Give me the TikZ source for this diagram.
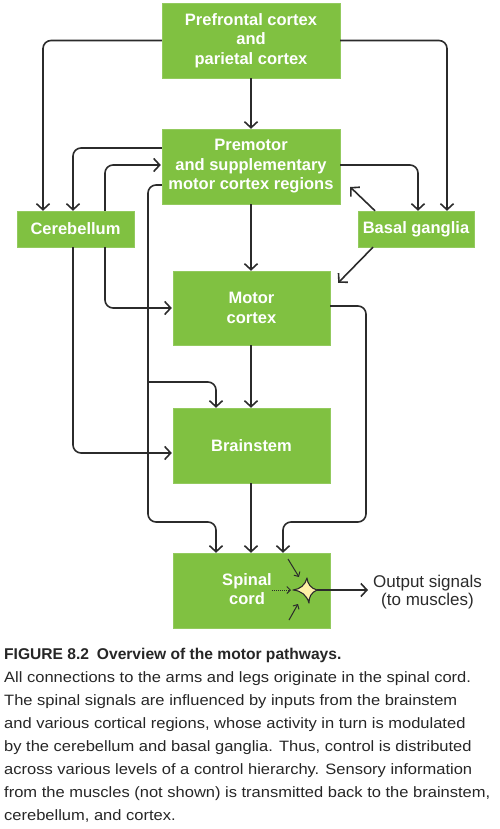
\documentclass[tikz,border=0pt]{standalone}
\usepackage{fontspec}
\setmainfont{Liberation Sans}
\newfontfamily\legfont[FakeStretch=1.1]{Liberation Sans}
\usetikzlibrary{arrows.meta}
\definecolor{vert}{HTML}{80C141}
\definecolor{trait}{HTML}{2B2B2B}
\definecolor{jaune}{HTML}{FDF0A6}

\begin{document}
\begin{tikzpicture}[x=1pt,y=-1pt,
  boite/.style={fill=vert, draw=vert!85!white, text=white, align=center,
                font=\fontsize{16.5}{19.5}\selectfont\bfseries, inner sep=0pt},
  fl/.style={draw=trait, line width=1.6pt, rounded corners=8pt,
             -{Straight Barb[length=6pt,width=13pt,line width=1.6pt]}},
  petit/.style={draw=trait, line width=1pt,
             -{Straight Barb[length=3.5pt,width=7pt,line width=1pt]}}]

\useasboundingbox (0,0) rectangle (500,829);

% les boites
\node [boite, minimum width=178pt, minimum height=75pt] (pfc) at (251,40.5)
  {Prefrontal cortex\\and\\parietal cortex};
\node [boite, minimum width=178pt, minimum height=75pt] (pmc) at (251,166.5)
  {Premotor\\and supplementary\\motor cortex regions};
\node [boite, minimum width=117pt, minimum height=36pt] (cer) at (75.5,229) {Cerebellum};
\node [boite, minimum width=116pt, minimum height=36pt] (bg) at (416,229) {Basal ganglia};
\node [boite, minimum width=157pt, minimum height=74pt] (mc) at (251.5,308) {Motor\\cortex};
\node [boite, minimum width=157pt, minimum height=75pt] (bs) at (251.5,445.5) {Brainstem};
\node [boite, minimum width=157pt, minimum height=75pt] (sc) at (251.5,590.5) {};
\node [boite, fill=none, draw=none] (sctxt) at (247,589) {Spinal\\cord};

% les fleches
\draw [fl] (pfc.south) -- (pmc.north);
\draw [fl] (pfc.west) -| ([xshift=-32.5pt]cer.north);
\draw [fl] (pfc.east) -| ([xshift=31pt]bg.north);
\draw [fl] ([yshift=18.5pt]pmc.west) -| ([xshift=-2.5pt]cer.north);
\draw [fl] ([xshift=29.5pt]cer.north) |- ([xshift=-1pt,yshift=1.5pt]pmc.west);
\draw [fl] ([yshift=1.5pt]pmc.east) -| ([xshift=2pt]bg.north);
\draw [fl] ([xshift=-41pt]bg.north) -- ([xshift=10pt,yshift=-20.5pt]pmc.east);
\draw [fl] ([xshift=-43pt]bg.south) -- ([xshift=8pt,yshift=-12pt]mc.north east);
\draw [fl] (pmc.south) -- (pmc.south |- mc.north);
\draw [fl] ([xshift=29.5pt]cer.south) |- ([xshift=-1pt]mc.west);
\draw [fl] ([xshift=-2.5pt]cer.south) |- ([xshift=-1pt,yshift=-7.5pt]bs.west);
\draw [fl] ([yshift=-18.5pt]pmc.west) -| (148,522) -| ([xshift=-35.5pt]sc.north);
\coordinate (branche) at (148,382);
\draw [fl] (branche) -| ([xshift=-35.5pt]bs.north);
\draw [fl] ([xshift=-0.5pt]mc.south) -- ([xshift=-0.5pt]bs.north);
\draw [fl] ([xshift=-0.5pt]bs.south) -- ([xshift=-0.5pt]sc.north);
\draw [fl] ([yshift=2pt]mc.east) -| (366,522) -| ([xshift=31.5pt]sc.north);

% le neurone dans la moelle
\coordinate (nrn) at (305,590);
\draw [fl] (317,590) -- (368,590);
\draw [trait, line width=1.1pt, fill=jaune, line join=round]
  (293,590) to[bend right=35] (307,578) to[bend right=35] (317,590)
  to[bend right=35] (309,603) to[bend right=35] cycle;
\draw [petit] (288,559) -- (299,577);
\draw [petit, densely dotted] (272,590) -- (291,590);
\draw [petit] (289,620) -- (298,604);

\node [align=center, font=\fontsize{17}{18.5}\selectfont, text=trait] (sortie) at (427.5,592)
  {Output signals\\(to muscles)};

% la legende
\node [anchor=north west, align=left, inner sep=0pt, text=black!85,
       font=\fontsize{15}{23}\selectfont] (leg) at (4,648)
  {\textbf{\fontsize{15.6}{23}\selectfont FIGURE 8.2\enspace Overview of the motor pathways.}\\
   \legfont All connections to the arms and legs originate in the spinal cord.\\
   \legfont The spinal signals are influenced by inputs from the brainstem\\
   \legfont and various cortical regions, whose activity in turn is modulated\\
   \legfont by the cerebellum and basal ganglia. Thus, control is distributed\\
   \legfont across various levels of a control hierarchy. Sensory information\\
   \legfont from the muscles (not shown) is transmitted back to the brainstem,\\
   \legfont cerebellum, and cortex.};

\end{tikzpicture}
\end{document}
